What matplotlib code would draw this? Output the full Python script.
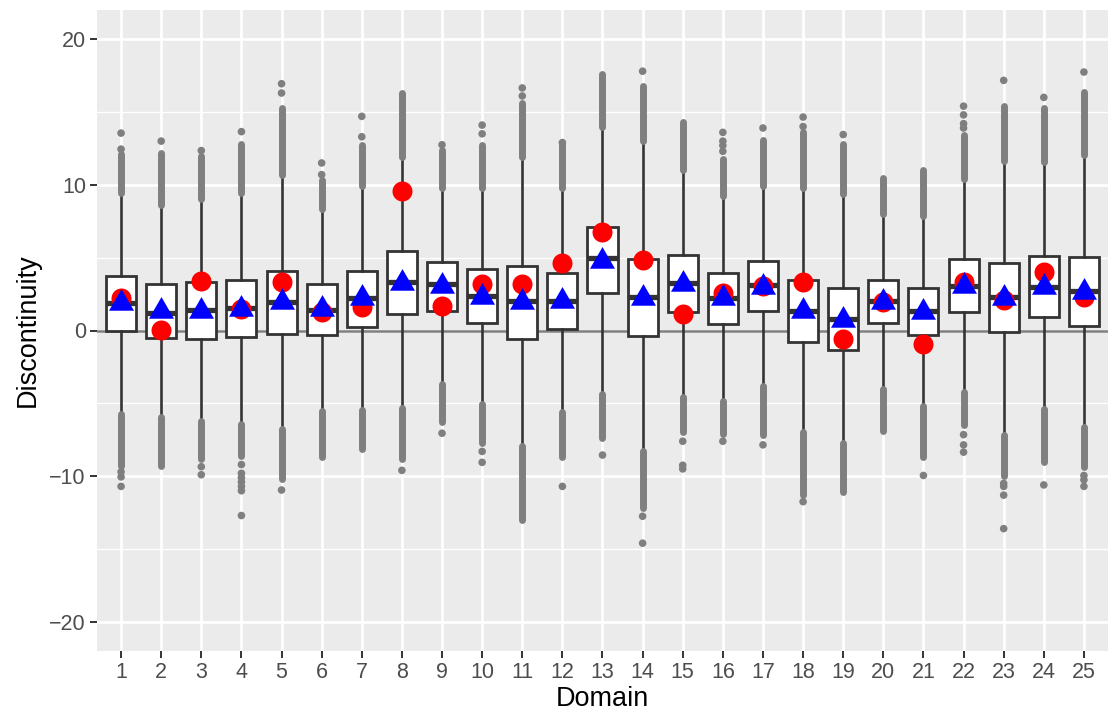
import numpy as np
import matplotlib
matplotlib.use("Agg")
import matplotlib.pyplot as plt

plt.rcParams['font.family'] = ['Liberation Sans', 'DejaVu Sans']

# ---------------------------------------------------------------
# Data (one entry per domain)
# ---------------------------------------------------------------
domains = list(range(1, 26))

q1 = [0.0, -0.5, -0.55, -0.48, -0.27, -0.34, 0.27, 1.1, 1.37, 0.5,
      -0.55, 0.11, 2.56, -0.39, 1.3, 0.46, 1.32, -0.8, -1.37, 0.5,
      -0.34, 1.26, -0.11, 0.91, 0.34]
med = [1.9, 1.2, 1.4, 1.55, 1.95, 1.44, 2.24, 3.3, 3.2, 2.4,
       2.05, 2.05, 4.95, 2.28, 3.24, 2.24, 3.13, 1.32, 0.8, 2.05,
       1.32, 3.08, 2.28, 3.0, 2.74]
q3 = [3.77, 3.2, 3.3, 3.5, 4.1, 3.17, 4.1, 5.43, 4.73, 4.22,
      4.45, 3.97, 7.08, 4.93, 5.18, 3.97, 4.75, 3.47, 2.92, 3.5,
      2.92, 4.89, 4.6, 5.14, 5.02]
whisk_lo = [-5.6, -5.8, -6.05, -6.3, -6.6, -5.4, -5.3, -5.2, -3.5, -4.9,
            -7.76, -5.48, -4.2, -8.17, -4.4, -4.7, -3.65, -6.85, -7.58, -3.84,
            -5.0, -4.06, -7.0, -5.25, -6.5]
whisk_hi = [9.3, 8.45, 8.9, 9.3, 10.5, 8.2, 9.77, 11.76, 9.6, 9.6,
            11.76, 9.6, 13.8, 12.85, 10.9, 9.1, 9.77, 9.6, 9.25, 7.88,
            7.7, 10.27, 11.5, 11.4, 11.9]

# red circles and blue triangles
red_vals = [2.2, 0.05, 3.4, 1.5, 3.3, 1.3, 1.6, 9.55, 1.7, 3.2,
            3.2, 4.6, 6.78, 4.86, 1.1, 2.56, 3.08, 3.36, -0.57, 1.94,
            -0.91, 3.3, 2.12, 4.0, 2.28]
tri_vals = [1.87, 1.37, 1.37, 1.5, 1.96, 1.46, 2.24, 3.24, 3.08, 2.33,
            1.94, 2.05, 4.79, 2.24, 3.2, 2.24, 3.0, 1.37, 0.73, 1.99,
            1.26, 3.06, 2.24, 3.0, 2.67]

# dense outlier stacks (start, end) above and below each box
upper_run = [(9.45, 12.1), (8.6, 12.2), (9.05, 12.0), (9.45, 12.8), (10.65, 15.3),
             (8.35, 10.3), (9.9, 12.7), (11.9, 16.3), (9.75, 12.4), (9.75, 12.7),
             (11.9, 15.6), (9.75, 12.7), (13.95, 17.6), (13.0, 16.75), (11.05, 14.3),
             (9.25, 11.8), (9.9, 13.1), (9.75, 13.6), (9.4, 12.8), (8.0, 10.5),
             (7.85, 11.0), (10.4, 13.4), (11.65, 15.4), (11.55, 15.3), (12.05, 16.4)]
lower_run = [(-5.75, -9.3), (-5.95, -9.3), (-6.2, -8.8), (-6.45, -8.6), (-6.75, -10.2),
             (-5.55, -8.7), (-5.45, -8.1), (-5.35, -8.8), (-3.65, -6.3), (-5.05, -7.7),
             (-7.9, -13.0), (-5.6, -8.7), (-4.35, -7.4), (-8.3, -12.2), (-4.55, -7.0),
             (-4.85, -7.1), (-3.8, -7.2), (-7.0, -11.3), (-7.7, -11.1), (-4.0, -6.9),
             (-5.15, -8.7), (-4.2, -6.5), (-7.15, -10.0), (-5.4, -9.0), (-6.65, -9.4)]

# isolated outliers beyond the stacks
upper_pts = [[12.45, 13.55], [13.0], [12.35], [13.65], [16.3, 16.94],
             [10.7, 11.5], [13.3, 14.7], [], [12.75], [13.5, 14.1],
             [16.1, 16.65], [12.9], [], [17.8], [],
             [12.3, 12.7, 13.0, 13.6], [13.9], [14.0, 14.65], [13.45], [],
             [], [13.9, 14.2, 14.8, 15.4], [17.17], [16.0], [17.74]]
lower_pts = [[-9.7, -10.05, -10.7], [], [-9.35, -9.9],
             [-9.2, -9.8, -10.1, -10.4, -10.7, -11.0, -12.7], [-10.95],
             [], [], [-9.6], [-7.05], [-8.3, -9.05],
             [], [-10.7], [-8.55], [-12.75, -14.6], [-7.6, -9.25, -9.5],
             [-7.6], [-7.85], [-11.75], [], [],
             [-9.95], [-7.15, -7.85, -8.35], [-10.5, -10.7, -11.3, -13.6], [-10.6],
             [-9.95, -10.25, -10.7]]

# ---------------------------------------------------------------
# Figure
# ---------------------------------------------------------------
fig = plt.figure(figsize=(11.11, 7.17), dpi=100)
ax = fig.add_axes([97 / 1111, 1 - 651 / 717, 1011 / 1111, 641 / 717])

ax.set_facecolor('#EBEBEB')
for s in ax.spines.values():
    s.set_visible(False)

ax.set_xlim(0.4, 25.6)
ax.set_ylim(-22, 22)
ax.set_xticks(domains)
ax.set_xticklabels([str(d) for d in domains])
ax.set_yticks([-20, -10, 0, 10, 20])
ax.set_yticklabels(['\u221220', '\u221210', '0', '10', '20'])
ax.set_yticks([-15, -5, 5, 15], minor=True)

ax.grid(True, which='major', color='white', linewidth=1.9, zorder=0)
ax.grid(True, which='minor', axis='y', color='white', linewidth=0.95, zorder=0)
ax.set_axisbelow(True)
ax.tick_params(axis='both', which='major', length=5, width=1.4, color='#333333',
               labelsize=15.5, labelcolor='#4D4D4D', pad=3)
ax.tick_params(axis='y', which='minor', length=0)

ax.axhline(0, color='#7F7F7F', linewidth=1.8, zorder=1)

# boxes
stats = []
for i in range(len(domains)):
    stats.append(dict(med=med[i], q1=q1[i], q3=q3[i],
                      whislo=whisk_lo[i], whishi=whisk_hi[i], fliers=[]))
ax.bxp(stats, positions=domains, widths=0.75, showcaps=False, showfliers=False,
       patch_artist=True, manage_ticks=False,
       boxprops=dict(facecolor='white', edgecolor='#333333', linewidth=2.0),
       whiskerprops=dict(color='#333333', linewidth=1.9),
       medianprops=dict(color='#333333', linewidth=3.8, solid_capstyle='butt'),
       zorder=2)

# outliers
flier_col = '#7F7F7F'
run_x, run_lo, run_hi = [], [], []
for i, d in enumerate(domains):
    for a, b in (upper_run[i], lower_run[i]):
        run_x.append(d)
        run_lo.append(a)
        run_hi.append(b)
lc = ax.vlines(run_x, run_lo, run_hi, colors=flier_col, linewidth=5.0, zorder=3)
lc.set_capstyle('round')

pts_x, pts_y = [], []
for i, d in enumerate(domains):
    for v in upper_pts[i] + lower_pts[i]:
        pts_x.append(d)
        pts_y.append(v)
ax.scatter(pts_x, pts_y, s=30, color=flier_col, edgecolors='none', zorder=3)

# red circles and blue triangles
ax.plot(domains, red_vals, linestyle='none', marker='o', markersize=14.4,
        color='#FF0000', markeredgewidth=0, zorder=4)
tri_marker = [(0, 1), (-0.866, -0.5), (0.866, -0.5), (0, 1)]
ax.plot(domains, tri_vals, linestyle='none', marker=tri_marker, markersize=20.8,
        color='#0000FF', markeredgewidth=0, zorder=5)

ax.set_xlabel('Domain', fontsize=19.5, color='black', labelpad=2)
ax.set_ylabel('Discontinuity', fontsize=19.5, color='black', labelpad=6)

fig.savefig('out.png', dpi=100)
